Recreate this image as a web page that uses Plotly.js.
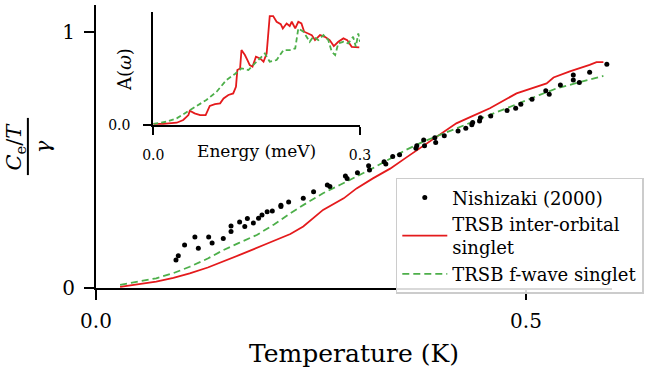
<!DOCTYPE html>
<html>
<head>
<meta charset="utf-8">
<script src="https://cdn.plot.ly/plotly-3.0.1.min.js"></script>
<style>html,body{margin:0;padding:0;background:#fff;}#chart{width:649px;height:376px;}</style>
</head>
<body>
<div id="chart"></div>
<script>
// Main panel: Nishizaki (2000) data
const expT = [0.093,0.0957,0.103,0.115,0.119,0.131,0.135,0.148,0.157,0.157,0.167,0.173,0.176,0.183,0.189,0.193,0.199,0.205,0.215,0.215,0.224,0.241,0.253,0.269,0.272,0.290,0.292,0.304,0.317,0.318,0.335,0.337,
  0.345,0.353,0.372,0.373,0.381,0.382,0.394,0.395,0.405,0.421,0.430,0.437,0.438,0.446,0.447,0.459,0.478,0.488,0.494,0.507,0.523,0.527,0.540,0.555,0.555,0.562,0.574,0.594];
const expC = [0.109,0.126,0.168,0.199,0.155,0.199,0.176,0.193,0.242,0.221,0.258,0.240,0.271,0.254,0.272,0.285,0.298,0.301,0.318,0.323,0.336,0.350,0.376,0.402,0.396,0.4375,0.428,0.450,0.477,0.461,0.493,0.484,
  0.513,0.520,0.546,0.555,0.578,0.555,0.587,0.568,0.594,0.613,0.624,0.637,0.646,0.652,0.665,0.672,0.693,0.702,0.717,0.737,0.770,0.757,0.793,0.832,0.8125,0.802,0.842,0.874];

// TRSB inter-orbital singlet
const redT = [0.028,0.05,0.07,0.09,0.109,0.13,0.148,0.17,0.195,0.215,0.226,0.241,0.264,0.288,0.303,0.322,0.342,0.361,0.381,0.40,0.419,0.435,0.458,0.489,0.524,0.532,0.551,0.574,0.582,0.59];
const redC = [0.004,0.015,0.025,0.04,0.057,0.08,0.103,0.133,0.168,0.195,0.211,0.240,0.305,0.350,0.389,0.428,0.466,0.51,0.556,0.60,0.643,0.667,0.702,0.760,0.799,0.822,0.846,0.871,0.882,0.882];

// TRSB f-wave singlet
const grnT = [0.028,0.05,0.07,0.09,0.109,0.13,0.148,0.167,0.187,0.207,0.226,0.245,0.264,0.284,0.303,0.322,0.342,0.361,0.381,0.40,0.419,0.438,0.458,0.477,0.497,0.516,0.536,0.555,0.574,0.59];
const grnC = [0.012,0.025,0.038,0.058,0.083,0.115,0.148,0.177,0.207,0.248,0.292,0.332,0.370,0.403,0.435,0.468,0.505,0.540,0.572,0.598,0.624,0.650,0.676,0.702,0.728,0.754,0.780,0.797,0.8125,0.828];

// Inset A(omega)
const insRedE = [0,0.0145,0.034,0.0435,0.051,0.053,0.060,0.068,0.076,0.082,0.0895,0.097,0.102,0.109,0.116,0.120,0.122,0.126,0.128,0.133,0.137,0.140,0.144,0.149,0.155,0.160,0.1645,0.167,0.169,0.174,0.179,0.185,0.188,0.1935,0.198,0.201,0.206,0.2105,0.215,0.219,0.225,0.230,0.2347,0.242,0.249,0.256,0.262,0.2685,0.276,0.2815,0.288,0.293,0.299];
const insRedA = [0.01,0.01,0.02,0.044,0.088,0.126,0.103,0.088,0.088,0.168,0.185,0.191,0.235,0.265,0.279,0.338,0.485,0.5,0.662,0.618,0.568,0.529,0.515,0.603,0.588,0.559,0.632,0.809,0.962,0.962,0.912,0.891,0.853,0.897,0.874,0.912,0.853,0.912,0.897,0.824,0.809,0.794,0.75,0.794,0.779,0.75,0.697,0.735,0.765,0.75,0.691,0.691,0.685];
const insGrnE = [0,0.019,0.034,0.048,0.063,0.077,0.092,0.106,0.1185,0.128,0.138,0.145,0.155,0.162,0.169,0.179,0.189,0.198,0.206,0.2105,0.218,0.2225,0.227,0.232,0.2395,0.247,0.254,0.259,0.264,0.2685,0.276,0.283,0.290,0.294,0.2975,0.300];
const insGrnA = [0.01,0.029,0.059,0.109,0.168,0.221,0.294,0.397,0.45,0.5,0.485,0.529,0.588,0.632,0.559,0.574,0.662,0.662,0.676,0.853,0.824,0.779,0.735,0.779,0.75,0.794,0.75,0.647,0.618,0.721,0.735,0.721,0.779,0.691,0.809,0.735];

const RED = '#e41a1c', GRN = '#4daf4a';
const FONT = 'DejaVu Serif';

const traces = [
  {x: redT, y: redC, mode: 'lines', name: 'TRSB inter-orbital<br>singlet', legendrank: 2,
   line: {color: RED, width: 1.8}},
  {x: grnT, y: grnC, mode: 'lines', name: 'TRSB f-wave singlet', legendrank: 3,
   line: {color: GRN, width: 1.8, dash: '7px,4px'}},
  {x: expT, y: expC, mode: 'markers', name: 'Nishizaki (2000)', legendrank: 1,
   marker: {color: 'black', size: 5}},
  {x: insRedE, y: insRedA, mode: 'lines', xaxis: 'x2', yaxis: 'y2', showlegend: false,
   line: {color: RED, width: 1.8}},
  {x: insGrnE, y: insGrnA, mode: 'lines', xaxis: 'x2', yaxis: 'y2', showlegend: false,
   line: {color: GRN, width: 1.8, dash: '5px,3px'}}
];

const axBase = {showgrid: false, zeroline: false, showline: true, linecolor: 'black', linewidth: 2,
  ticks: 'outside', tickcolor: 'black', tickwidth: 2, mirror: false};

const layout = {
  width: 649, height: 376,
  margin: {l: 96, r: 37, t: 5, b: 88, autoexpand: false},
  paper_bgcolor: 'white', plot_bgcolor: 'white',
  font: {family: FONT, color: 'black'},
  xaxis: Object.assign({}, axBase, {range: [0, 0.6], tickvals: [0, 0.5], ticktext: ['0.0', '0.5'],
    ticklen: 10, ticklabelstandoff: 4, tickfont: {size: 20, family: FONT},
    title: {text: 'Temperature (K)', font: {size: 25, family: FONT}, standoff: 12}}),
  yaxis: Object.assign({}, axBase, {range: [0, 1.105], tickvals: [0, 1], ticktext: ['0', '1'],
    ticklen: 10, ticklabelstandoff: 5, tickfont: {size: 20, family: FONT}}),
  xaxis2: Object.assign({}, axBase, {domain: [0.111, 0.5116], anchor: 'y2', range: [0, 0.3],
    tickvals: [0, 0.3], ticktext: ['0.0', '0.3'], ticklen: 8, ticklabelstandoff: 8,
    tickfont: {size: 14, family: FONT}}),
  yaxis2: Object.assign({}, axBase, {domain: [0.576, 0.976], anchor: 'x2', range: [0, 1],
    tickvals: [0], ticktext: ['0.0'], ticklen: 8, ticklabelstandoff: 10,
    tickfont: {size: 14, family: FONT}}),
  legend: {x: 0.581, y: 0.389, xanchor: 'left', yanchor: 'top',
    bgcolor: 'rgba(255,255,255,0.85)', bordercolor: '#cccccc', borderwidth: 1.5,
    font: {size: 18, family: FONT}, itemwidth: 45, tracegroupgap: 0},
  shapes: [
    {type: 'line', xref: 'paper', yref: 'paper', x0: -0.132, x1: -0.132, y0: 0.399, y1: 0.601,
     line: {color: 'black', width: 2}}
  ],
  annotations: [
    {xref: 'paper', yref: 'paper', x: -0.157, y: 0.5, xanchor: 'center', yanchor: 'middle',
     text: '<i>C</i><sub>e</sub>/<i>T</i>',
     showarrow: false, textangle: -90, font: {size: 21, family: FONT}},
    {xref: 'paper', yref: 'paper', x: -0.103, y: 0.50, xanchor: 'center', yanchor: 'middle',
     text: '<i>γ</i>',
     showarrow: false, textangle: -90, font: {size: 21, family: FONT}},
    {xref: 'paper', yref: 'paper', x: 0.3113, y: 0.483, xanchor: 'center', yanchor: 'middle',
     text: 'Energy (meV)',
     showarrow: false, font: {size: 17, family: FONT}},
    {xref: 'paper', yref: 'paper', x: 0.055, y: 0.772, xanchor: 'center', yanchor: 'middle',
     text: 'A(<i>ω</i>)',
     showarrow: false, textangle: -90, font: {size: 18, family: FONT}}
  ]
};

Plotly.newPlot('chart', traces, layout, {displayModeBar: false, staticPlot: true});
</script>
</body>
</html>
